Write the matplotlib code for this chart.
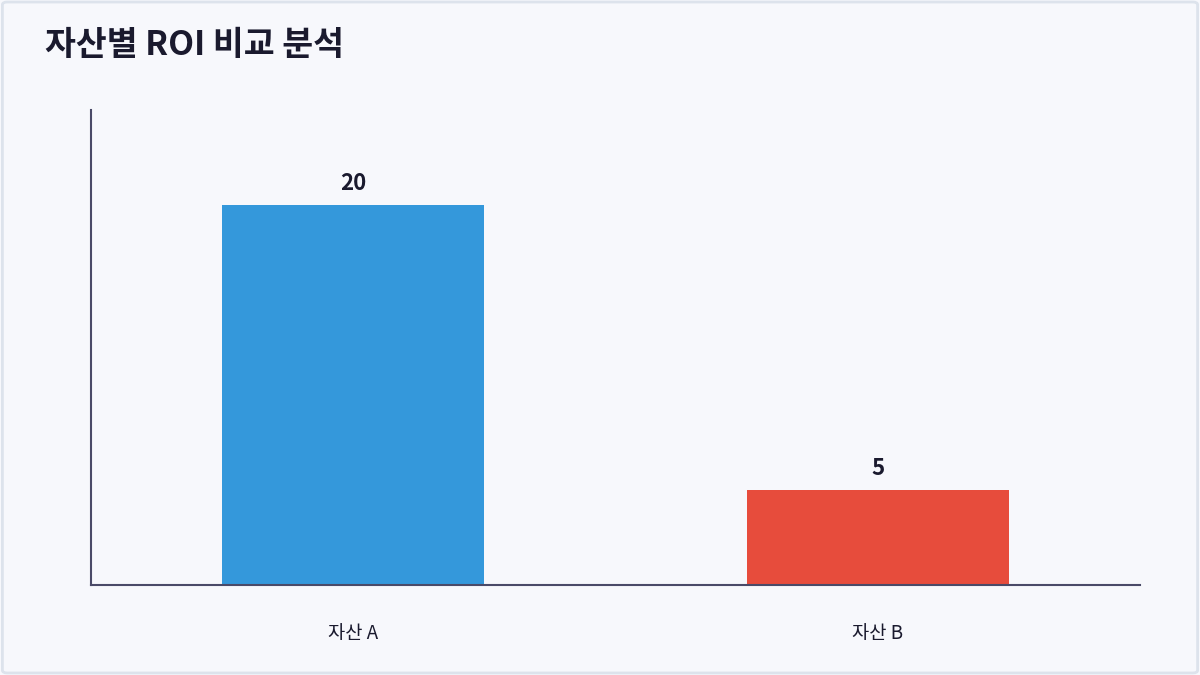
import matplotlib
matplotlib.use('Agg')
import matplotlib.pyplot as plt
from matplotlib.patches import FancyBboxPatch

plt.rcParams['font.family'] = ['Noto Sans CJK KR', 'DejaVu Sans']

categories = ['자산 A', '자산 B']
roi_values = [20, 5]
bar_colors = ['#3498db', '#e74c3c']
title = '자산별 ROI 비교 분석'

bg = '#f7f8fc'
text_dark = '#1a1a2e'
axis_color = '#4a4a68'

fig = plt.figure(figsize=(12, 6.75), dpi=100, facecolor=bg)

# light border around the card
border = FancyBboxPatch((0.002, 0.003), 0.996, 0.994, boxstyle='round,pad=0,rounding_size=0.004',
                        transform=fig.transFigure, facecolor='none', edgecolor='#dde3ec', linewidth=2)
fig.patches.append(border)

ax = fig.add_axes([0.0758, 0.1333, 0.8742, 0.7037])
ax.set_facecolor('none')

x = range(len(categories))
bars = ax.bar(x, roi_values, width=0.5, color=bar_colors, zorder=2)

for b, v in zip(bars, roi_values):
    ax.annotate(f'{v}', (b.get_x() + b.get_width() / 2, v), xytext=(0, 7.5), textcoords='offset points',
                ha='center', va='bottom', fontsize=16, fontweight='bold', color=text_dark)

ax.set_xlim(-0.5, 1.5)
ax.set_ylim(0, 25)
ax.set_xticks(list(x))
ax.set_xticklabels(categories, fontsize=13.5, fontweight='medium', color=text_dark)
ax.tick_params(axis='x', length=0, pad=27)
ax.set_yticks([])
for side in ['top', 'right']:
    ax.spines[side].set_visible(False)
for side in ['left', 'bottom']:
    ax.spines[side].set_color(axis_color)
    ax.spines[side].set_linewidth(1.5)

fig.text(45 / 1200, 1 - 45 / 675, title, fontsize=24.2, fontweight='bold', color=text_dark,
         ha='left', va='center')

fig.savefig('out.png', dpi=100, facecolor=bg)
